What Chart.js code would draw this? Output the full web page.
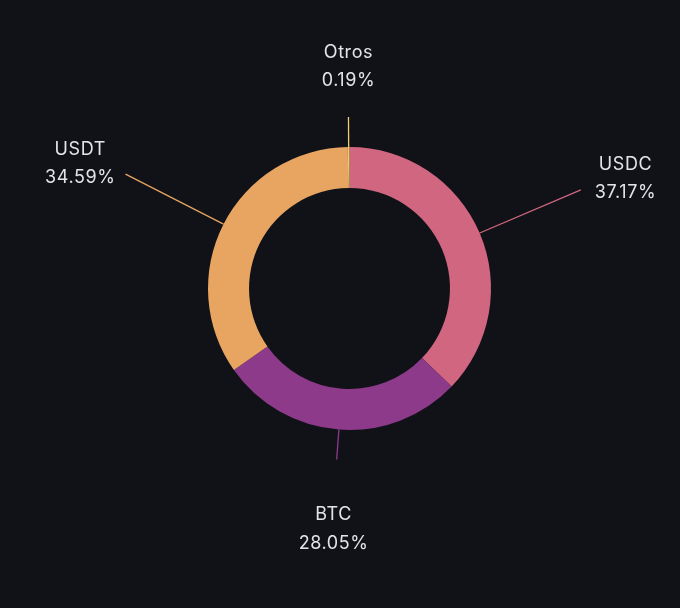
<!DOCTYPE html>
<html>
<head>
<meta charset="utf-8">
<script src="https://cdn.jsdelivr.net/npm/chart.js@4"></script>
<style>
  html, body { margin: 0; padding: 0; background: #111218; }
  #wrap { width: 680px; height: 608px; }
</style>
</head>
<body>
<div id="wrap"><canvas id="allocChart" width="680" height="608"></canvas></div>
<script>
// Distribución de activos
const labels = ['USDC', 'BTC', 'USDT', 'Otros'];
const shares = [37.17, 28.05, 34.59, 0.19];
const colors = ['#d0667f', '#8e3a8a', '#e8a562', '#f2cf6c'];

// etiquetas con línea guía fuera del anillo
const leaderLabels = {
    id: 'leaderLabels',
    afterDatasetsDraw(chart) {
        const ctx = chart.ctx;
        const arcs = chart.getDatasetMeta(0).data;
        ctx.save();
        ctx.font = '18px Inter, "Noto Sans", sans-serif';
        ctx.letterSpacing = '0.6px';
        ctx.fillStyle = '#e4e4e7';
        ctx.textBaseline = 'middle';
        arcs.forEach((arc, i) => {
            const p = arc.getProps(['x', 'y', 'startAngle', 'endAngle', 'outerRadius'], true);
            const a = (p.startAngle + p.endAngle) / 2;
            const cx = Math.cos(a), sy = Math.sin(a);
            const side = Math.abs(cx) > 0.5;
            const len = side ? 110 : 30;
            const x0 = p.x + cx * p.outerRadius, y0 = p.y + sy * p.outerRadius;
            const x1 = p.x + cx * (p.outerRadius + len), y1 = p.y + sy * (p.outerRadius + len);

            ctx.strokeStyle = colors[i];
            ctx.lineWidth = 1.3;
            ctx.beginPath();
            ctx.moveTo(x0, y0);
            ctx.lineTo(x1, y1);
            ctx.stroke();

            const pct = shares[i].toFixed(2) + '%';
            if (side) {
                const tx = x1 + (cx > 0 ? 14 : -10);
                const w = Math.max(ctx.measureText(labels[i]).width, ctx.measureText(pct).width);
                const mid = cx > 0 ? tx + w / 2 : tx - w / 2;
                ctx.textAlign = 'center';
                ctx.fillText(labels[i], mid, y1 - 25);
                ctx.fillText(pct, mid, y1 + 3);
            } else {
                ctx.textAlign = 'center';
                if (sy < 0) {
                    ctx.fillText(labels[i], x1, y1 - 64);
                    ctx.fillText(pct, x1, y1 - 36);
                } else {
                    ctx.fillText(labels[i], x1 - 3, y1 + 55);
                    ctx.fillText(pct, x1 - 3, y1 + 84);
                }
            }
        });
        ctx.restore();
    }
};

new Chart(document.getElementById('allocChart'), {
    type: 'doughnut',
    data: {
        labels: labels,
        datasets: [{
            data: shares,
            backgroundColor: colors,
            borderWidth: 0
        }]
    },
    options: {
        responsive: false,
        animation: false,
        cutout: '71%',
        layout: {
            padding: { left: 208, right: 189, top: 147, bottom: 178 }
        },
        plugins: {
            legend: { display: false },
            tooltip: { enabled: false }
        },
        events: []
    },
    plugins: [leaderLabels]
});
</script>
</body>
</html>
